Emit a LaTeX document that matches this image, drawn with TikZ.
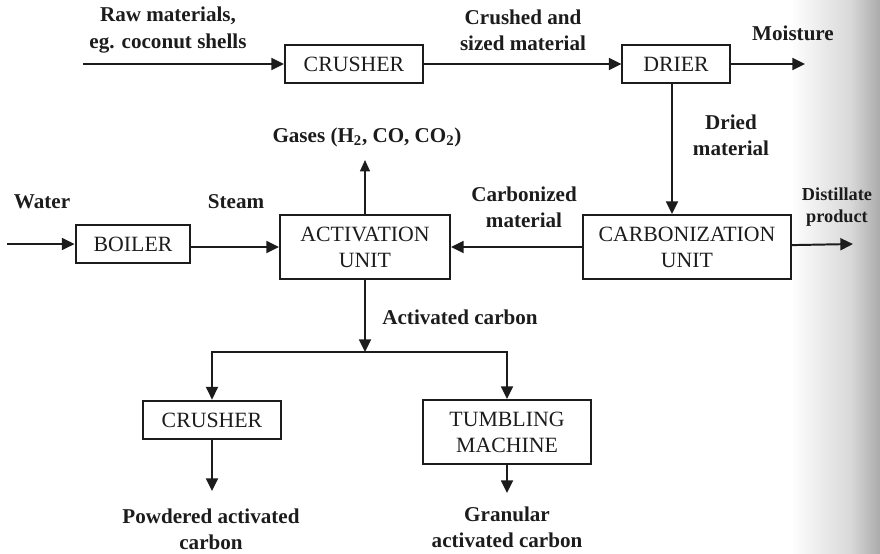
\documentclass[tikz,border=0pt]{standalone}
\usepackage{fontspec}
\setmainfont{Liberation Serif}
\usetikzlibrary{arrows.meta,positioning}
\definecolor{inkdark}{RGB}{28,28,28}
\tikzset{
  unit/.style={
    rectangle, draw=inkdark, line width=1.4pt,
    minimum height=0.97cm, align=center, inner sep=2pt,
    font=\fontsize{15.5}{18.5}\selectfont, text=inkdark
  },
  tallunit/.style={unit, minimum height=1.6cm},
  tag/.style={
    align=center, inner sep=0pt, text=inkdark,
    font=\fontsize{15}{18.5}\selectfont\bfseries
  },
  flow/.style={-{Triangle[length=9pt,width=8.5pt]}, line width=1.4pt, inkdark},
  flowline/.style={line width=1.4pt, inkdark},
}
\begin{document}
\begin{tikzpicture}[x=0.025cm, y=-0.025cm]

		\useasboundingbox (0,0) rectangle (880,553);
		%% ── scanned page edge ──
		\shade[left color=white, right color=black!15] (790,0) rectangle (850,553);
		\shade[left color=black!15, right color=black!33] (850,0) rectangle (880,553);

		%% ── Row 1: size reduction and drying ──
		\node[unit, minimum width=3.45cm] (crusher) at (354,64) {CRUSHER};
		\node[unit, minimum width=2.68cm] (drier)   at (676,64) {DRIER};
		\coordinate (rawin)  at (83,64);
		\coordinate (moist)  at (805,64);

		%% ── Row 2: boiler, activation, carbonization ──
		\node[unit, minimum width=2.87cm] (boiler) at (133,244) {BOILER};
		\node[tallunit, minimum width=4.25cm] (activ) at (365,247) {ACTIVATION\\UNIT};
		\node[tallunit, minimum width=5.18cm] (carbon) at (687,247) {CARBONIZATION\\UNIT};
		\coordinate (water)   at (7,244);
		\coordinate (distil)  at (853,244);
		\coordinate (gases)   at (365,160);
		\coordinate (split)   at (365,352);

		%% ── Row 3: finishing ──
		\node[unit, minimum width=3.43cm] (grind)  at (212,420) {CRUSHER};
		\node[tallunit, minimum width=4.18cm] (tumble) at (507,432) {TUMBLING\\MACHINE};
		\coordinate (pac) at (212,491);
		\coordinate (gac) at (507,493);

		%% ── Arrows row 1 ──
		\draw[flow] (rawin)   -- (crusher);
		\draw[flow] (crusher) -- (drier);
		\draw[flow] (drier)   -- (moist);
		\draw[flow] ([xshift=-0.1cm]drier.south) -- ([xshift=-0.1cm]drier.south |- carbon.north);

		%% ── Arrows row 2 ──
		\draw[flow] (water)  -- (boiler);
		\draw[flow] (boiler.east |- activ.west) -- (activ);
		\draw[flow] (carbon) -- (activ);
		\draw[flow] (carbon) -- (distil);
		\draw[flowline, -{Triangle[length=8pt,width=7pt]}, line width=1pt] (activ) -- (gases);
		\draw[flow] (activ) -- (split);

		%% ── Arrows row 3 ──
		\draw[flow] (split) -| (grind);
		\draw[flow] (split) -| (tumble);
		\draw[flow] (grind)  -- (pac);
		\draw[flow] (tumble) -- (gac);

		%% ── Stream labels ──
		\node[tag] (rawlbl)   at (168,30)  {Raw materials,\\eg. coconut shells};
		\node[tag] (sizedlbl) at (523,30)  {Crushed and\\sized material};
		\node[tag] (moistlbl) at (793,33)  {Moisture};
		\node[tag] (driedlbl) at (731,135) {Dried\\material};
		\node[tag] (gaslbl)   at (367,137) {Gases (H\textsubscript{2}, CO, CO\textsubscript{2})};
		\node[tag] (waterlbl) at (42,202)  {Water};
		\node[tag] (steamlbl) at (236,202) {Steam};
		\node[tag] (charlbl)  at (524,207) {Carbonized\\material};
		\node[tag, font=\fontsize{13}{16}\selectfont\bfseries] (distlbl) at (837,207) {Distillate\\product};
		\node[tag] (actlbl)   at (460,317) {Activated carbon};
		\node[tag] (pacl)     at (211,529) {Powdered activated\\carbon};
		\node[tag] (gacl)     at (507,527) {Granular\\activated carbon};

	\end{tikzpicture}
\end{document}
